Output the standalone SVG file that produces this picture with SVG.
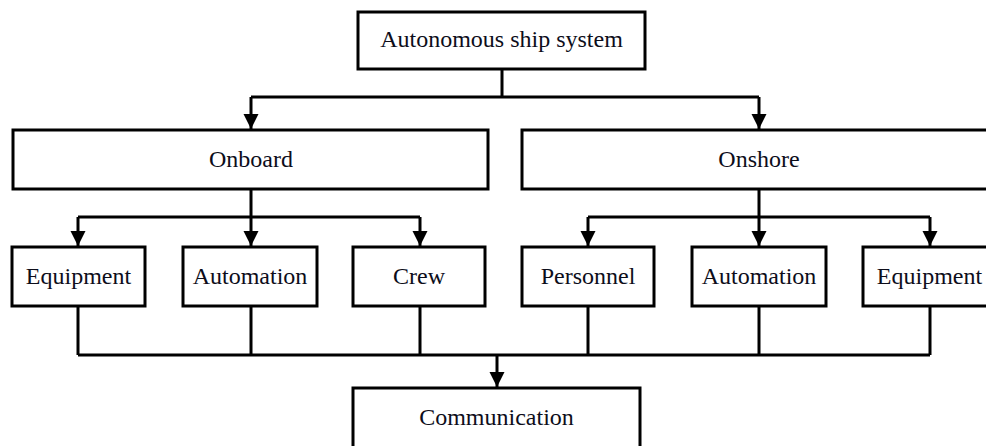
<svg xmlns="http://www.w3.org/2000/svg" width="986" height="446" viewBox="0 0 986 446">
<style>
.box{fill:#fff;stroke:#000;stroke-width:3}
.lbl{font-family:"Liberation Serif","Times New Roman",serif;font-size:24px;fill:#0d0d1a;text-anchor:middle}
.ln{fill:none;stroke:#000;stroke-width:3}
</style>
<defs>
<marker id="ah" markerUnits="userSpaceOnUse" markerWidth="16" markerHeight="16" viewBox="0 0 16 16" refX="8" refY="16" orient="auto-start-reverse">
<path d="M0,0 L16,0 L8,16 Z" fill="#000" transform="rotate(-90 8 8)"/>
</marker>
<marker id="ad" markerUnits="userSpaceOnUse" markerWidth="16" markerHeight="16" viewBox="0 0 16 16" refX="8" refY="15">
<path d="M0.5,0 L15.5,0 L8,15 Z" fill="#000"/>
</marker>
</defs>
<rect width="986" height="446" fill="#fff"/>
<g id="connectors">
<path class="ln" d="M502,69 V97 M251,97 H759"/>
<path class="ln" d="M251,97 V129" marker-end="url(#ad)"/>
<path class="ln" d="M759,97 V129" marker-end="url(#ad)"/>
<path class="ln" d="M251,189 V217 M78,217 H420"/>
<path class="ln" d="M78,217 V246" marker-end="url(#ad)"/>
<path class="ln" d="M251,217 V246" marker-end="url(#ad)"/>
<path class="ln" d="M420,217 V246" marker-end="url(#ad)"/>
<path class="ln" d="M759,189 V217 M588,217 H930"/>
<path class="ln" d="M588,217 V246" marker-end="url(#ad)"/>
<path class="ln" d="M759,217 V246" marker-end="url(#ad)"/>
<path class="ln" d="M930,217 V246" marker-end="url(#ad)"/>
<path class="ln" d="M78,306 V355 M251,306 V355 M420,306 V355 M588,306 V355 M759,306 V355 M930,306 V355 M78,355 H930"/>
<path class="ln" d="M497,355 V387" marker-end="url(#ad)"/>
</g>
<g id="n-top"><rect class="box" x="358" y="12" width="287" height="57"/><text class="lbl" x="501.5" y="47">Autonomous ship system</text></g>
<g id="n-onboard"><rect class="box" x="13" y="130" width="475" height="59"/><text class="lbl" x="251" y="167">Onboard</text></g>
<g id="n-onshore"><rect class="box" x="522" y="130" width="480" height="59"/><text class="lbl" x="759" y="167">Onshore</text></g>
<g id="n-equip1"><rect class="box" x="12" y="247" width="133" height="59"/><text class="lbl" x="78.5" y="284">Equipment</text></g>
<g id="n-auto1"><rect class="box" x="183" y="247" width="134" height="59"/><text class="lbl" x="250" y="284">Automation</text></g>
<g id="n-crew"><rect class="box" x="353" y="247" width="132" height="59"/><text class="lbl" x="419" y="284">Crew</text></g>
<g id="n-personnel"><rect class="box" x="522" y="247" width="132" height="59"/><text class="lbl" x="588" y="284">Personnel</text></g>
<g id="n-auto2"><rect class="box" x="692" y="247" width="134" height="59"/><text class="lbl" x="759" y="284">Automation</text></g>
<g id="n-equip2"><rect class="box" x="863" y="247" width="140" height="59"/><text class="lbl" x="929.5" y="284">Equipment</text></g>
<g id="n-comm"><rect class="box" x="353" y="388" width="287" height="70"/><text class="lbl" x="496.5" y="425">Communication</text></g>
</svg>
